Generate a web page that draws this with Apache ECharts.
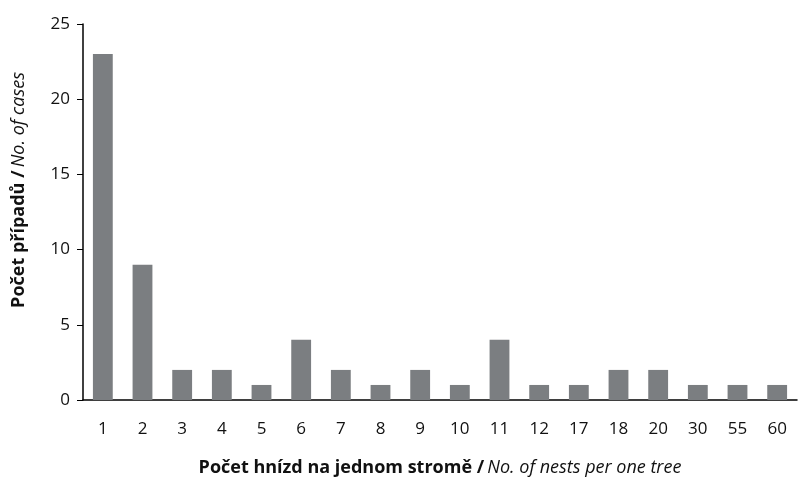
<!DOCTYPE html>
<html>
<head>
<meta charset="utf-8">
<script src="https://cdn.jsdelivr.net/npm/echarts@6/dist/echarts.min.js"></script>
<style>
  html, body { margin: 0; padding: 0; background: #fff; }
  #chart { width: 800px; height: 483px; }
</style>
</head>
<body>
<div id="chart"></div>
<script>
// nests per tree (category) and number of cases
const nestCounts = ['1', '2', '3', '4', '5', '6', '7', '8', '9', '10', '11', '12', '17', '18', '20', '30', '55', '60'];
const caseCounts = [23, 9, 2, 2, 1, 4, 2, 1, 2, 1, 4, 1, 1, 2, 2, 1, 1, 1];
const yTicks = [0, 5, 10, 15, 20, 25];

const font = 'Open Sans';
const chart = echarts.init(document.getElementById('chart'));

const option = {
  animation: false,
  textStyle: { fontFamily: font },
  grid: { left: 83, right: 3, top: 24, bottom: 83, containLabel: false },
  xAxis: {
    type: 'category',
    data: nestCounts,
    boundaryGap: true,
    axisLine: { lineStyle: { color: '#000', width: 1.5 } },
    axisTick: { inside: true, length: 6, lineStyle: { color: '#000' } },
    axisLabel: { color: '#111', fontSize: 17, margin: 21, fontFamily: font },
    name: '{b|Počet hnízd na jednom stromě /} {i|No. of nests per one tree}',
    nameLocation: 'middle',
    nameGap: 59,
    nameTextStyle: {
      rich: {
        b: { fontWeight: 'bold', fontSize: 18, color: '#111', fontFamily: font },
        i: { fontStyle: 'italic', fontSize: 18, color: '#111', fontFamily: font }
      }
    }
  },
  yAxis: {
    type: 'value',
    min: yTicks[0],
    max: yTicks[yTicks.length - 1],
    interval: 5,
    splitLine: { show: false },
    axisLine: { show: true, lineStyle: { color: '#000', width: 1.5 } },
    axisTick: { show: true, length: 6, lineStyle: { color: '#000' } },
    axisLabel: { color: '#111', fontSize: 17, margin: 13, fontFamily: font },
    name: '{b|Počet případů /} {i|No. of cases}',
    nameLocation: 'middle',
    nameGap: 55,
    nameTextStyle: {
      padding: [0, 0, 0, 44],
      rich: {
        b: { fontWeight: 'bold', fontSize: 18, color: '#111', fontFamily: font },
        i: { fontStyle: 'italic', fontSize: 18, color: '#111', fontFamily: font }
      }
    }
  },
  series: [{
    type: 'bar',
    data: caseCounts,
    barWidth: '50%',
    itemStyle: { color: '#7b7e81' }
  }]
};
chart.setOption(option);
</script>
</body>
</html>
